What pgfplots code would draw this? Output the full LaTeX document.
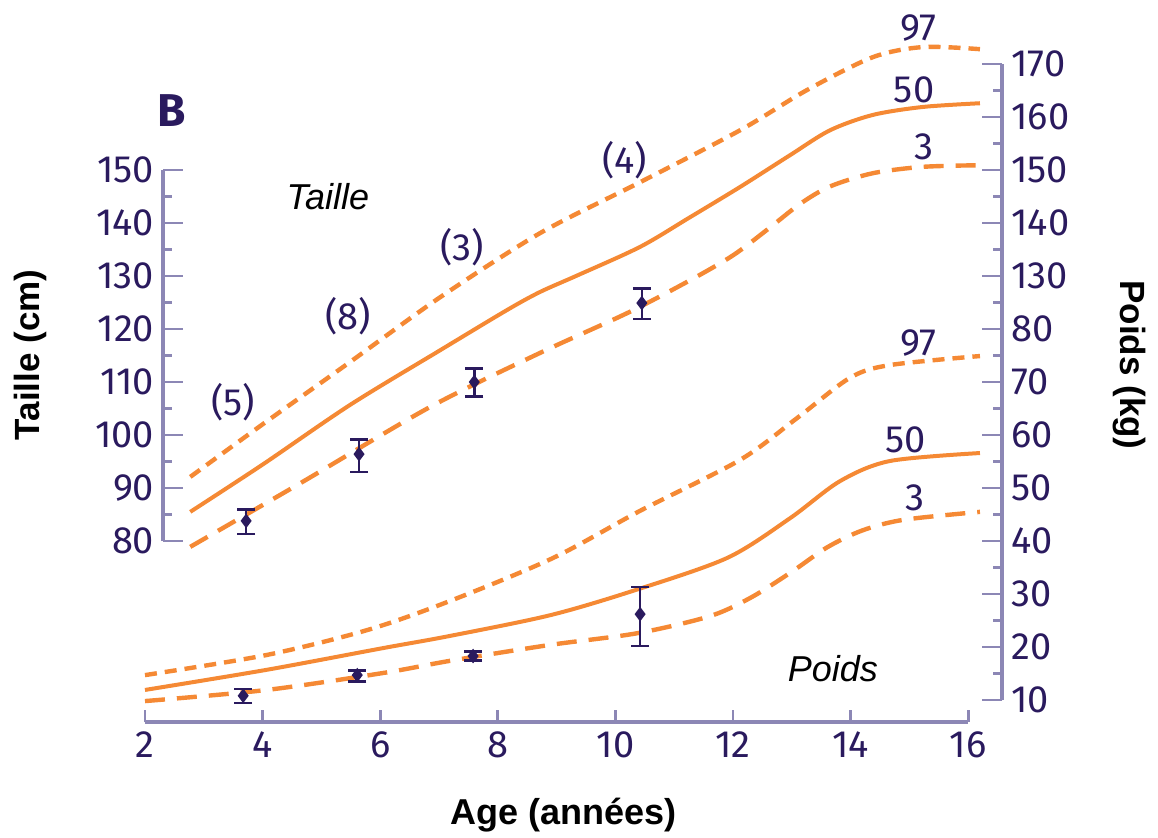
\documentclass[border=0pt]{standalone}
\usepackage{pgfplots}
\pgfplotsset{compat=1.18}
\usepackage{pgfplotstable}
\usepackage{fontspec}
\setmainfont{Fira Sans}
\newfontfamily\arialfont{Liberation Sans}
\definecolor{orng}{RGB}{245,137,52}
\definecolor{navy}{RGB}{42,26,94}
\definecolor{axcol}{RGB}{140,135,181}

% Taille (cm)
\pgfplotstableread{
x y
2.77 85.5
4.01 94.5
5.49 105.7
7.02 116.0
8.16 123.6
8.72 127.0
9.35 130.1
10.42 135.5
11.27 141.1
12.12 146.8
12.97 152.8
13.65 157.5
14.38 160.4
15.23 161.9
16.20 162.6
}\tailleM
\pgfplotstableread{
x y
2.77 92.1
4.01 102.1
5.49 113.8
7.02 126.0
8.72 138.1
10.42 147.7
12.12 157.5
13.26 165.1
14.38 171.3
15.23 173.2
16.20 172.8
}\tailleH
\pgfplotstableread{
x y
2.77 78.9
4.64 90.9
6.85 105.3
8.72 115.5
10.20 123.0
11.27 129.2
12.00 133.9
12.60 138.9
13.14 143.6
13.65 146.9
14.38 149.4
15.23 150.6
16.20 150.9
}\tailleL
% Poids (kg)
\pgfplotstableread{
x y
2.00 14.7
4.07 18.5
5.78 23.2
7.19 28.7
8.94 36.8
10.42 45.7
12.12 55.3
13.09 63.2
13.99 70.8
14.67 73.2
16.20 74.9
}\poidsH
\pgfplotstableread{
x y
2.00 11.9
4.07 15.7
6.05 19.8
7.19 22.1
8.89 26.0
10.30 30.6
11.90 36.8
12.97 44.3
13.82 51.3
14.67 55.1
16.20 56.6
}\poidsM
\pgfplotstableread{
x y
2.00 9.8
4.07 11.9
6.05 15.1
7.19 17.4
8.89 20.4
10.37 22.6
11.60 25.8
12.30 29.3
13.00 34.2
13.60 38.8
14.20 42.0
14.90 44.0
16.20 45.5
}\poidsL
% mesures
\pgfplotstableread{
x y ep em
3.72 83.8 2.2 2.5
5.64 96.4 2.8 3.4
7.60 110.0 2.5 2.7
10.45 124.9 2.8 3.0
}\tailleObs
\pgfplotstableread{
x y ep em
3.67 10.8 1.3 1.4
5.61 14.7 0.9 1.2
7.58 18.3 0.9 0.9
10.42 26.2 5.1 6.0
}\poidsObs

\begin{document}
\begin{tikzpicture}
\pgfplotsset{
  ticklab/.style={text=navy, font=\fontsize{19}{22}\selectfont},
  /pgf/number format/assume math mode=true,
}
\begin{axis}[
  x=29.4pt, y=2.65pt,
  xmin=2, xmax=16, ymin=45.8, ymax=182,
  clip=false,
  axis x line*=bottom, axis y line=none,
  axis line style={-},
  x axis line style={-, draw=axcol, line width=2pt},
  xtick={2,4,...,16},
  tick align=inside, major tick length=6pt,
  x tick style={draw=axcol, line width=1.4pt},
  xticklabel style={ticklab, yshift=-1pt},
  hl/.style={orng, line width=2.2pt, dash pattern=on 6pt off 4pt, smooth},
  ml/.style={orng, line width=2pt, smooth},
  ll/.style={orng, line width=2.2pt, dash pattern=on 10pt off 6pt, smooth},
  obs/.style={only marks, navy, line width=1.3pt, mark=diamond*, mark size=2.6pt,
    error bars/.cd, y dir=both, y explicit,
    error bar style={line width=1.3pt, navy},
    error mark options={rotate=90, mark size=4.5pt, line width=1.3pt, navy}},
]
\addplot[hl] table[x=x,y=y] {\tailleH};
\addplot[ml] table[x=x,y=y] {\tailleM};
\addplot[ll] table[x=x,y=y] {\tailleL};
\addplot[hl] table[x=x,y expr=\thisrow{y}+40] {\poidsH};
\addplot[ml] table[x=x,y expr=\thisrow{y}+40] {\poidsM};
\addplot[ll] table[x=x,y expr=\thisrow{y}+40] {\poidsL};
\addplot[obs] table[x=x,y=y,y error plus=ep,y error minus=em] {\tailleObs};
\addplot[obs] table[x=x,y expr=\thisrow{y}+40,y error plus=ep,y error minus=em] {\poidsObs};

\node[text=navy, font=\fontsize{23}{26}\selectfont\bfseries] at (axis cs:2.46,161.3) {B};
\node[font=\arialfont\itshape\fontsize{18}{21}\selectfont] at (axis cs:5.11,144.9) {Taille};
\node[font=\arialfont\itshape\fontsize{18}{21}\selectfont] at (axis cs:13.70,56.0) {Poids};
\begin{scope}[every node/.style={text=navy, font=\fontsize{19}{22}\selectfont}]
\node at (axis cs:3.50,106.2) {(5)};
\node at (axis cs:5.45,122.5) {(8)};
\node at (axis cs:7.39,135.5) {(3)};
\node at (axis cs:10.16,151.9) {(4)};
\node at (axis cs:15.15,176.8) {97};
\node at (axis cs:15.08,165.1) {50};
\node at (axis cs:15.25,154.3) {3};
\node at (axis cs:15.15,117.4) {97};
\node at (axis cs:14.93,99.1) {50};
\node at (axis cs:15.10,88.1) {3};
\end{scope}
\node[rotate=90, font=\arialfont\bfseries\fontsize{17.5}{21}\selectfont] at (axis cs:0.044,115.1) {Taille (cm)};
\node[rotate=-90, font=\arialfont\bfseries\fontsize{17.5}{21}\selectfont] at (axis cs:18.75,113.2) {Poids (kg)};
\node[font=\arialfont\bfseries\fontsize{18}{21}\selectfont] at (axis cs:9.11,28.3) {Age (années)};

\coordinate (bbSW) at (axis cs:-0.466,24.15);
\coordinate (bbNE) at (axis cs:19.228,182.08);
\coordinate (Lsw) at (axis cs:2.31,80);
\coordinate (Rse) at (axis cs:16.58,50);
\end{axis}

\begin{axis}[
  at={(Lsw)}, anchor=south west,
  x=29.4pt, y=2.65pt, xmin=0, xmax=1, ymin=80, ymax=150,
  axis y line=left, axis x line=none,
  axis line style={-},
  y axis line style={-, draw=axcol, line width=1.8pt},
  ytick={80,90,...,150}, minor ytick={85,95,...,145},
  tick align=inside, major tick length=10pt, minor tick length=4.5pt,
  y tick style={draw=axcol, line width=1.4pt},
  minor y tick style={draw=axcol, line width=1.4pt},
  yticklabel style={ticklab, xshift=-1pt},
]
\end{axis}

\begin{axis}[
  at={(Rse)}, anchor=south east,
  x=29.4pt, y=2.65pt, xmin=0, xmax=1, ymin=50, ymax=170,
  axis y line=right, axis x line=none,
  axis line style={-},
  y axis line style={-, draw=axcol, line width=2pt},
  ytick={50,60,...,170},
  yticklabels={10,20,30,40,50,60,70,80,130,140,150,160,170},
  minor ytick={55,65,...,165},
  tick align=inside, major tick length=10pt, minor tick length=4.5pt,
  y tick style={draw=axcol, line width=1.4pt},
  minor y tick style={draw=axcol, line width=1.4pt},
  yticklabel style={ticklab, xshift=1pt},
]
\end{axis}

\pgfresetboundingbox
\useasboundingbox (bbSW) rectangle (bbNE);
\end{tikzpicture}
\end{document}
